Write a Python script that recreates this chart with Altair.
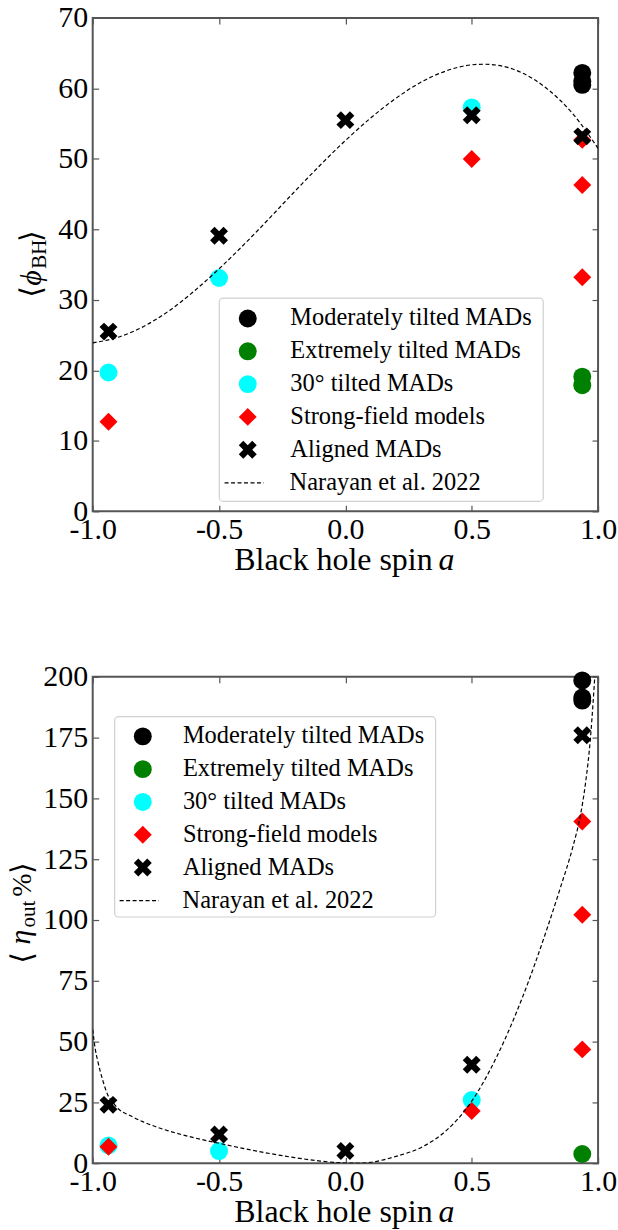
import altair as alt
import pandas as pd

FONT = "Liberation Serif"
SERIES = ["Moderately tilted MADs", "Extremely tilted MADs", "30° tilted MADs",
          "Strong-field models", "Aligned MADs"]
COLORS = ["#000000", "#008000", "#00ffff", "#ff0000", "#000000"]
X_PATH = "M0.5,-1L0,-0.5L-0.5,-1L-1,-0.5L-0.5,0L-1,0.5L-0.5,1L0,0.5L0.5,1L1,0.5L0.5,0L1,-0.5Z"
SHAPES = ["circle", "circle", "circle", "diamond", X_PATH]
SIZES = [324, 324, 324, 300, 270]
CURVE_LABEL = "Narayan et al. 2022"

X_TICKS = [-1.0, -0.5, 0.0, 0.5, 1.0]

# ---------------- top panel: <phi_BH> ----------------
phi_mod_a = [0.9375, 0.9375, 0.9375]
phi_mod = [62.2, 61.0, 60.5]
phi_ext_a = [0.9375, 0.9375]
phi_ext = [19.1, 17.9]
phi_30_a = [-0.9375, -0.5, 0.5]
phi_30 = [19.7, 33.1, 57.3]
phi_sf_a = [-0.9375, 0.5, 0.9375, 0.9375, 0.9375]
phi_sf = [12.7, 50.0, 52.7, 46.3, 33.2]
phi_al_a = [-0.9375, -0.5, 0.0, 0.5, 0.9375]
phi_al = [25.5, 39.1, 55.5, 56.2, 53.2]

phi_curve_a = [-1.0, -0.9, -0.8, -0.7, -0.6, -0.5, -0.4, -0.3, -0.2, -0.1, 0.0,
               0.1, 0.2, 0.3, 0.4, 0.5, 0.55, 0.6, 0.7, 0.8, 0.9, 1.0]
phi_curve = [23.9, 24.7, 26.2, 28.4, 31.2, 34.4, 37.9, 41.6, 45.4, 49.1, 52.6,
             55.8, 58.6, 60.9, 62.5, 63.35, 63.43, 63.3, 62.2, 59.9, 56.4, 51.5]
phi_ticks = [0, 10, 20, 30, 40, 50, 60, 70]

# ---------------- bottom panel: <eta_out %> ----------------
eta_mod_a = [0.9375, 0.9375, 0.9375]
eta_mod = [198.5, 191.5, 190.2]
eta_ext_a = [0.9375]
eta_ext = [3.8]
eta_30_a = [-0.9375, -0.5, 0.5]
eta_30 = [7.3, 5.0, 26.0]
eta_sf_a = [-0.9375, 0.5, 0.9375, 0.9375, 0.9375]
eta_sf = [6.8, 21.5, 140.5, 102.2, 46.8]
eta_al_a = [-0.9375, -0.5, 0.0, 0.5, 0.9375]
eta_al = [24.0, 11.8, 5.0, 40.5, 176.0]

eta_curve_a = [-1.0, -0.99, -0.98, -0.96, -0.94, -0.92, -0.9, -0.85, -0.8, -0.75,
               -0.7, -0.6, -0.5, -0.4, -0.3, -0.2, -0.1, 0.0, 0.05, 0.1, 0.2,
               0.3, 0.4, 0.5, 0.6, 0.7, 0.8, 0.85, 0.9, 0.93, 0.95,
               0.97, 0.98, 0.99]
eta_curve = [55.0, 47.0, 42.0, 34.0, 28.0, 25.0, 22.5, 19.5, 17.0, 15.0,
             13.3, 10.5, 8.2, 6.0, 4.0, 2.3, 0.9, 0.1, 0.0, 0.4, 2.8,
             6.5, 13.5, 25.5, 44.0, 68.0, 97.0, 113.0, 130.0, 143.0, 156.0,
             175.0, 189.0, 205.0]
eta_ticks = [0, 25, 50, 75, 100, 125, 150, 175, 200]


def points_frame(groups):
    rows = []
    for name, xs, ys in groups:
        for x, y in zip(xs, ys):
            rows.append({"a": x, "v": y, "series": name})
    return pd.DataFrame(rows)


LABEL_EXPR = ("datum.value < 0 ? '-' + format(-datum.value, '.1f') "
              ": format(datum.value, '.1f')")
ONE = pd.DataFrame({"d": [0]})


def panel(groups, curve_a, curve_v, ydom, yticks, height, leg_sym, leg_dash,
          box, title_pieces, interp):
    width = 507
    df = points_frame(groups)
    dfc = pd.DataFrame({"a": curve_a, "v": curve_v, "label": CURVE_LABEL})
    xs = alt.Scale(domain=[-1, 1], nice=False, zero=False)
    ys = alt.Scale(domain=ydom, nice=False, zero=False)

    common_axis = dict(domain=False, grid=False, title=None, offset=-6, tickSize=6,
                       tickColor="#555", tickWidth=1.2)
    ax_bottom = alt.Axis(orient="bottom", values=X_TICKS, labelExpr=LABEL_EXPR,
                         labelFont=FONT, labelFontSize=30, labelColor="black",
                         labelPadding=3, labelFlush=False, labelOverlap=False,
                         **common_axis)
    ax_top = alt.Axis(orient="top", values=X_TICKS, labels=False, **common_axis)
    ax_left = alt.Axis(orient="left", values=yticks, labelFont=FONT, labelFontSize=30,
                       labelColor="black", labelPadding=5, labelFlush=False,
                       labelOverlap=False, **common_axis)
    ax_right = alt.Axis(orient="right", values=yticks, labels=False, **common_axis)

    sym_legend = alt.Legend(orient="none", legendX=leg_sym[0], legendY=leg_sym[1],
                            title=None, labelFont=FONT, labelFontSize=24.5,
                            labelColor="black", labelLimit=0, symbolSize=300,
                            rowPadding=7.9, labelOffset=leg_sym[2], padding=0,
                            symbolStrokeWidth=0)
    dash_legend = alt.Legend(orient="none", legendX=leg_dash[0], legendY=leg_dash[1],
                             title=None, labelFont=FONT, labelFontSize=24.5,
                             labelColor="black", labelLimit=0, symbolSize=1550,
                             symbolType="stroke", symbolStrokeColor="black",
                             symbolStrokeWidth=1.2, labelOffset=leg_dash[2], padding=0)

    box_layer = alt.Chart(ONE).mark_rect(
        fill="white", stroke="#d0d0d0", strokeWidth=1.2, cornerRadius=4
    ).encode(x=alt.value(box[0]), x2=alt.value(box[1]),
             y=alt.value(box[2]), y2=alt.value(box[3]))

    pts = alt.Chart(df).mark_point(filled=True, opacity=1, strokeWidth=0).encode(
        x=alt.X("a:Q", scale=xs, axis=ax_bottom),
        y=alt.Y("v:Q", scale=ys, axis=ax_left),
        color=alt.Color("series:N", scale=alt.Scale(domain=SERIES, range=COLORS),
                        legend=sym_legend),
        shape=alt.Shape("series:N", scale=alt.Scale(domain=SERIES, range=SHAPES),
                        legend=sym_legend),
        size=alt.Size("series:N", scale=alt.Scale(domain=SERIES, range=SIZES),
                      legend=None),
    )

    line = alt.Chart(dfc).mark_line(
        color="black", strokeWidth=1.2, clip=True, interpolate=interp
    ).encode(
        x=alt.X("a:Q", scale=xs, axis=ax_top),
        y=alt.Y("v:Q", scale=ys, axis=ax_right),
        strokeDash=alt.StrokeDash("label:N",
                                  scale=alt.Scale(domain=[CURVE_LABEL], range=[[4, 2.5]]),
                                  legend=dash_legend),
    )

    texts = []
    # x-axis title
    texts.append(alt.Chart(ONE).mark_text(
        text="Black hole spin", align="right", baseline="middle", font=FONT,
        fontSize=32, color="black").encode(x=alt.value(341), y=alt.value(height + 49)))
    texts.append(alt.Chart(ONE).mark_text(
        text="a", align="left", baseline="middle", font=FONT, fontSize=32,
        fontStyle="italic", color="black").encode(x=alt.value(347), y=alt.value(height + 49)))
    # y-axis title pieces (rotated)
    for txt, fx, fy, fsize, fnt, style in title_pieces:
        texts.append(alt.Chart(ONE).mark_text(
            text=txt, angle=270, align="center", baseline="middle", font=fnt,
            fontSize=fsize, fontStyle=style, color="black"
        ).encode(x=alt.value(fx), y=alt.value(fy)))

    return alt.layer(box_layer, pts, line, *texts).resolve_axis(
        x="independent", y="independent"
    ).properties(width=width, height=height)


top_groups = [
    (SERIES[0], phi_mod_a, phi_mod),
    (SERIES[1], phi_ext_a, phi_ext),
    (SERIES[2], phi_30_a, phi_30),
    (SERIES[3], phi_sf_a, phi_sf),
    (SERIES[4], phi_al_a, phi_al),
]
bot_groups = [
    (SERIES[0], eta_mod_a, eta_mod),
    (SERIES[1], eta_ext_a, eta_ext),
    (SERIES[2], eta_30_a, eta_30),
    (SERIES[3], eta_sf_a, eta_sf),
    (SERIES[4], eta_al_a, eta_al),
]

BR = "DejaVu Serif"
top_title = [
    ("⟨", -61, 275, 30, BR, "normal"),
    ("ϕ", -61, 261, 30, FONT, "italic"),
    ("BH", -52.5, 237, 21, FONT, "normal"),
    ("⟩", -61, 219, 30, BR, "normal"),
]
bot_title = [
    ("⟨", -70, 282, 30, BR, "normal"),
    ("η", -72, 261, 30, FONT, "italic"),
    ("out", -64, 238, 21, FONT, "normal"),
    ("%", -70, 209, 28, FONT, "normal"),
    ("⟩", -70, 192, 30, BR, "normal"),
]

top = panel(top_groups, phi_curve_a, phi_curve, [0, 70], phi_ticks, 495,
            (143.3, 289.3, 30.5), (131.5, 446, 25), (127, 452, 281, 485), top_title, "monotone")
bottom = panel(bot_groups, eta_curve_a, eta_curve, [0, 200], eta_ticks, 488,
               (38, 47.5, 28), (26.2, 204, 23), (22, 344, 40, 241), bot_title, "monotone")

chart = alt.VConcatChart(vconcat=[top, bottom], spacing=166, bounds="flush").resolve_scale(
    color="independent", shape="independent", size="independent", strokeDash="independent"
).configure_view(stroke="#555", strokeWidth=2).properties(
    padding={"left": 5, "top": 0, "right": 0, "bottom": 0}
)

chart.save("out.html", embed_options={"renderer": "svg", "actions": False})
